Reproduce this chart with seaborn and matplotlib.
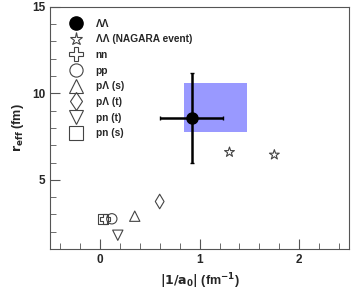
import matplotlib
matplotlib.use("Agg")
import matplotlib.pyplot as plt
from matplotlib.lines import Line2D
from matplotlib.patches import Rectangle
from matplotlib.ticker import MultipleLocator
import seaborn as sns
import pandas as pd

# dati
ll_x, ll_y = 0.92, 8.55
ll_xerr, ll_yerr = 0.32, 2.6
box_x = [0.84, 1.48]
box_y = [7.75, 10.6]

labels = ["ΛΛ (NAGARA event)", "ΛΛ (NAGARA event)", "nn", "pp",
          "pΛ (s)", "pΛ (t)", "pn (t)", "pn (s)"]
inv_a0 = [1.30, 1.75, 0.05, 0.12, 0.35, 0.60, 0.18, 0.03]
r_eff = [6.6, 6.45, 2.75, 2.75, 2.9, 3.75, 1.8, 2.75]

legend_labels = ["ΛΛ", "ΛΛ (NAGARA event)", "nn", "pp",
                 "pΛ (s)", "pΛ (t)", "pn (t)", "pn (s)"]
markers = {"ΛΛ (NAGARA event)": "*", "nn": "P", "pp": "o", "pΛ (s)": "^",
           "pΛ (t)": "d", "pn (t)": "v", "pn (s)": "s"}

df = pd.DataFrame({"x": inv_a0, "y": r_eff, "kind": labels})

sns.set_style("ticks")
plt.rcParams['font.family'] = ['Liberation Sans', 'DejaVu Sans']
plt.rcParams['font.weight'] = 'bold'

fig = plt.figure(figsize=(3.57, 2.99), dpi=100)
ax = fig.add_axes([0.14, 0.167, 0.838, 0.81])

ax.add_patch(Rectangle((box_x[0], box_y[0]), box_x[1] - box_x[0],
                       box_y[1] - box_y[0], color="#9999ff", lw=0, zorder=1))

sns.scatterplot(data=df, x="x", y="y", style="kind", markers=markers,
                s=55, legend=False, ax=ax, zorder=4)
# marker vuoti
for coll in ax.collections:
    coll.set_facecolor("none")
    coll.set_edgecolor("#444444")
    coll.set_linewidth(0.8)

ax.errorbar(ll_x, ll_y, xerr=ll_xerr, yerr=ll_yerr, fmt="o", color="black",
            ms=8, elinewidth=1.8, capsize=1.5, capthick=1, zorder=3)

ax.set_xlim(-0.5, 2.5)
ax.set_ylim(1, 15)
ax.xaxis.set_major_locator(MultipleLocator(1))
ax.xaxis.set_minor_locator(MultipleLocator(0.2))
ax.yaxis.set_major_locator(MultipleLocator(5))
ax.yaxis.set_minor_locator(MultipleLocator(1))
ax.tick_params(which="both", direction="in", labelsize=8.5, color="#555555")
ax.tick_params(which="major", length=7)
ax.tick_params(which="minor", length=4)
for s in ax.spines.values():
    s.set_color("#555555")
ax.set_xlabel(r"$\mathbf{|1/a_0|}$ (fm$^{\mathbf{-1}}$)", fontsize=9, fontweight="bold")
ax.set_ylabel(r"$\mathbf{r_{eff}}$ (fm)", fontsize=9, fontweight="bold")

handles = [Line2D([], [], marker="o", ls="", color="black", ms=9.5)]
for lab in legend_labels[1:]:
    handles.append(Line2D([], [], marker=markers[lab], ls="", mfc="none",
                          mec="#444444", mew=0.8, ms=9.5))
ax.legend(handles, legend_labels, loc="upper left", frameon=False,
          fontsize=7.3, handletextpad=0.55, labelspacing=0.56,
          borderaxespad=1.0, borderpad=0.15, handlelength=2.8)

fig.savefig("out.png", dpi=100)
